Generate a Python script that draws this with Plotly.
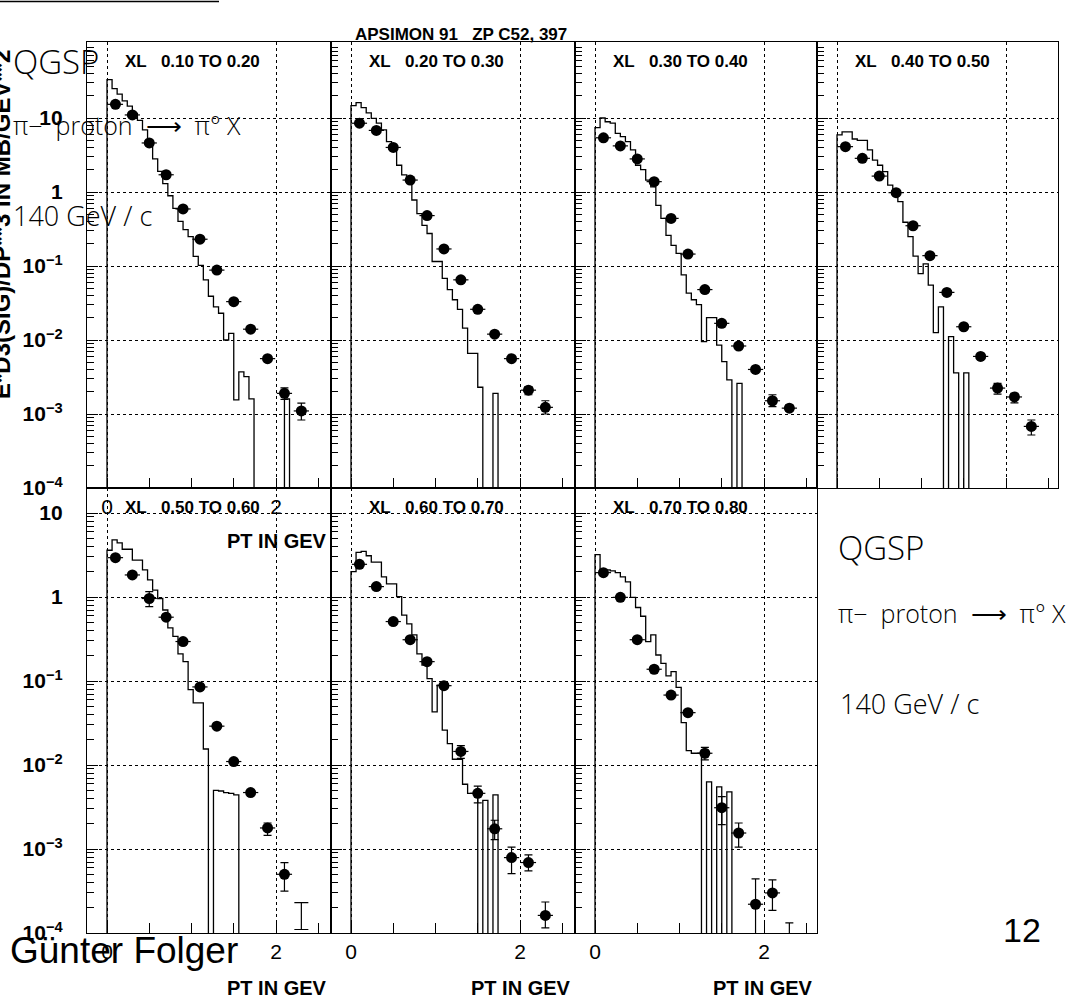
import plotly.graph_objects as go

W, H = 1080, 1002

# ---------------- data ----------------
BIN_WIDTH = 0.06  # GeV, histogram (QGSP) bin width
PT_POINTS = [0.1, 0.3, 0.5, 0.7, 0.9, 1.1, 1.3, 1.5, 1.7, 1.9, 2.1, 2.3]

panel_titles = ["XL   0.10 TO 0.20", "XL   0.20 TO 0.30", "XL   0.30 TO 0.40",
                "XL   0.40 TO 0.50", "XL   0.50 TO 0.60", "XL   0.60 TO 0.70",
                "XL   0.70 TO 0.80"]

# QGSP histograms (E d3sigma/dp3, mb/GeV^2), one value per 0.06 GeV bin starting at pT=0
hist_1 = [33, 25, 21, 17, 14.5, 11.5, 9.3, 6.9, 5.0, 2.8, 1.9, 1.3, 0.89, 0.60, 0.40, 0.31,
          0.25, 0.135, 0.102, 0.065, 0.039, 0.028, 0.023, 0.010, 0.0123, 0.00155, 0.0037,
          0.0032, 0.0016, 0, 0, 0, 0, 0, 0, 0.0016]
hist_2 = [14.7, 16.1, 13.8, 11.7, 9.9, 8.5, 6.9, 4.8, 4.1, 2.3, 1.7, 1.45, 0.78, 0.51, 0.355,
          0.275, 0.115, 0.115, 0.068, 0.048, 0.035, 0.026, 0.0145, 0.0066, 0.0066, 0.0023,
          0, 0, 0.0019]
hist_3 = [7.4, 10, 8.9, 8.5, 6.2, 5.6, 4.8, 3.7, 2.3, 2.0, 1.45, 1.17, 0.66, 0.44, 0.26, 0.19,
          0.148, 0.076, 0.043, 0.035, 0.030, 0.0095, 0.020, 0.020, 0.0085, 0.0051, 0.0029,
          0, 0.0026]
hist_4 = [5.9, 6.5, 6.5, 5.2, 5.0, 5.0, 3.7, 2.7, 2.3, 1.88, 1.24, 0.91, 0.74, 0.39, 0.25,
          0.136, 0.079, 0.107, 0.055, 0.0126, 0.028, 0, 0.0111, 0.0036, 0, 0.0036]
hist_5 = [3.6, 4.8, 4.4, 3.7, 3.7, 2.75, 2.75, 2.1, 1.6, 1.21, 0.96, 0.70, 0.43, 0.34, 0.21,
          0.17, 0.079, 0.055, 0.055, 0.0155, 0, 0.0050, 0.0049, 0.0047, 0.0046, 0.0044]
hist_6 = [2.0, 3.4, 3.5, 3.1, 2.6, 2.6, 1.74, 1.43, 1.43, 1.01, 0.61, 0.48, 0.355, 0.21, 0.155,
          0.107, 0.043, 0.089, 0.026, 0.018, 0.0117, 0.0117, 0.0059, 0.0046, 0.0046, 0,
          0.0038, 0, 0.0044]
hist_7 = [3.2, 2.1, 2.1, 2.05, 1.95, 1.74, 1.51, 0.99, 0.75, 0.59, 0.295, 0.355, 0.204, 0.162,
          0.115, 0.129, 0.084, 0.032, 0.0148, 0.0138, 0.0138, 0, 0.0063, 0, 0.0055, 0, 0.0048]

# APSIMON 91 data points
data_1 = [15.3, 11.0, 4.6, 1.71, 0.59, 0.23, 0.088, 0.033, 0.014, 0.0056, 0.0019, 0.0011]
data_2 = [8.5, 6.8, 4.0, 1.45, 0.48, 0.17, 0.065, 0.026, 0.012, 0.0056, 0.0021, 0.00123]
data_3 = [5.4, 4.2, 2.8, 1.38, 0.44, 0.145, 0.048, 0.0168, 0.0083, 0.0040, 0.00151, 0.0012]
data_4 = [4.1, 2.85, 1.64, 0.98, 0.35, 0.138, 0.044, 0.0151, 0.006, 0.00224, 0.0017, 0.00068]
data_5 = [2.94, 1.83, 0.96, 0.575, 0.295, 0.085, 0.029, 0.011, 0.0047, 0.00178, 0.0005]
data_6 = [2.45, 1.33, 0.51, 0.31, 0.17, 0.088, 0.0145, 0.0046, 0.00174, 0.00079, 0.00069, 0.000162]
data_7 = [1.95, 0.99, 0.31, 0.138, 0.068, 0.042, 0.0138, 0.0031, 0.00155, 0.00022, 0.0003, 0.00005]

# upper / lower ends of the vertical error bars (None = hidden behind the marker)
hi_1 = [None] * 10 + [0.00226, 0.0014]
lo_1 = [None] * 10 + [0.00158, 0.00083]
hi_2 = [None] * 10 + [0.00234, 0.00151]
lo_2 = [None] * 10 + [0.00182, 0.0010]
hi_3 = [None] * 10 + [0.00182, 0.00132]
lo_3 = [None] * 10 + [0.00126, 0.0011]
hi_4 = [None] * 9 + [0.0026, 0.0019, 0.00083]
lo_4 = [None] * 9 + [0.00186, 0.00141, 0.00052]
hi_5 = [None, None, 1.156, None, None, None, None, None, None, 0.00204, 0.00069]
lo_5 = [None, None, 0.767, None, None, None, None, None, None, 0.00145, 0.000316]
hi_6 = [None] * 6 + [0.017, 0.0056, 0.0022, 0.00105, 0.00085, 0.000234]
lo_6 = [None] * 6 + [0.012, 0.00355, 0.00129, 0.00051, 0.00055, 0.000115]
hi_7 = [None] * 6 + [0.0162, 0.0042, 0.00204, 0.00044, 0.00043, 0.000132]
lo_7 = [None] * 6 + [0.0115, 0.00195, 0.00105, 0.0000316, 0.000186, 0.00001]

# panel 5: last point only shows its error bar (x, centre, low, high)
bar_only_5 = dict(x=[2.3], y=[0.00016], lo=[0.00011], hi=[0.00023])

y_decades = [1e-4, 1e-3, 1e-2, 1e-1, 1, 10]
y_decade_text = ["10<sup>−4</sup>", "10<sup>−3</sup>", "10<sup>−2</sup>",
                 "10<sup>−1</sup>", "1", "10"]
x_label_vals = [0, 2]
x_label_text = ["0", "2"]
x_minor_vals = [0.5, 1.0, 1.5, 2.5]

hists = [hist_1, hist_2, hist_3, hist_4, hist_5, hist_6, hist_7]
datas = [data_1, data_2, data_3, data_4, data_5, data_6, data_7]
his = [hi_1, hi_2, hi_3, hi_4, hi_5, hi_6, hi_7]
los = [lo_1, lo_2, lo_3, lo_4, lo_5, lo_6, lo_7]

# ---------------- layout geometry (pixels) ----------------
frames = [(87, 331, 42, 488), (331, 575, 42, 488), (575, 817, 42, 488), (817, 1058, 42, 488),
          (87, 331, 488, 933), (331, 575, 488, 933), (575, 817, 488, 933)]
PX_PER_GEV = 84.5
X0_OFFSET = 20
FLOOR = 1e-7

BOLD = "Liberation Sans"
THIN = "Open Sans"
NB = "\u00a0"
ARROW_TEXT = "π−" + NB * 2 + "proton" + NB * 2 + "⟶" + NB * 2 + "π°" + NB + "X"

def px(xp):
    return xp / W

def py(yp):
    return 1 - yp / H

fig = go.Figure()
layout = dict(width=W, height=H, margin=dict(l=0, r=0, t=0, b=0, autoexpand=False),
              paper_bgcolor="white", plot_bgcolor="white", showlegend=False,
              font=dict(family=BOLD, color="black"))
annotations = []

minor_y = [m * 10.0 ** e for e in range(-4, 2) for m in range(2, 10)]

for i in range(7):
    L, R, T, B = frames[i]
    suf = "" if i == 0 else str(i + 1)
    xa, ya = "x" + suf, "y" + suf
    top_row = i < 4
    decade_px = 74 if top_row else 84
    ytop = -4 + (B - T) / decade_px

    # histogram
    vals = hists[i]
    n = len(vals)
    xs = [0.0] + [k * BIN_WIDTH for k in range(n)] + [n * BIN_WIDTH]
    ys = [FLOOR] + [v if v > 0 else FLOOR for v in vals] + [FLOOR]
    fig.add_trace(go.Scatter(x=xs, y=ys, mode="lines", xaxis=xa, yaxis=ya,
                             line=dict(color="black", width=1.3, shape="hv"),
                             hoverinfo="skip"))

    # data points
    yv = datas[i]
    xv = PT_POINTS[:len(yv)]
    ep = [(h - y) if h is not None else 0 for h, y in zip(his[i], yv)]
    em = [(y - l) if l is not None else 0 for l, y in zip(los[i], yv)]
    fig.add_trace(go.Scatter(
        x=xv, y=yv, mode="markers", xaxis=xa, yaxis=ya,
        marker=dict(size=11, color="black"),
        error_x=dict(type="constant", value=0.09, width=0, thickness=1.2, color="black"),
        error_y=dict(type="data", symmetric=False, array=ep, arrayminus=em,
                     width=4, thickness=1.2, color="black")))

    if i == 4:
        b = bar_only_5
        fig.add_trace(go.Scatter(
            x=b["x"], y=b["y"], mode="markers", xaxis=xa, yaxis=ya,
            marker=dict(size=10, color="rgba(0,0,0,0)"),
            error_y=dict(type="data", symmetric=False,
                         array=[h - y for h, y in zip(b["hi"], b["y"])],
                         arrayminus=[y - l for l, y in zip(b["lo"], b["y"])],
                         width=7, thickness=1.2, color="black")))

    show_x = i in (0, 4, 5, 6)
    show_y = i in (0, 4)
    layout["xaxis" + suf] = dict(
        domain=[px(L), px(R)], anchor=ya,
        range=[-X0_OFFSET / PX_PER_GEV, (R - L - X0_OFFSET) / PX_PER_GEV],
        tickmode="array", tickvals=x_label_vals, ticktext=x_label_text,
        showticklabels=show_x, ticks="inside", ticklen=10, tickwidth=1.3, tickcolor="black",
        tickfont=dict(family=BOLD, size=21, color="black"), ticklabelstandoff=0,
        minor=dict(tickmode="array", tickvals=x_minor_vals, ticks="inside", ticklen=10,
                   tickwidth=1.3, tickcolor="black", showgrid=False),
        showgrid=True, gridcolor="black", griddash="dot", gridwidth=1,
        showline=True, linecolor="black", linewidth=1.3, mirror=True, zeroline=False)
    layout["yaxis" + suf] = dict(
        domain=[py(B), py(T)], anchor=xa, type="log", range=[-4, ytop],
        tickmode="array", tickvals=y_decades, ticktext=y_decade_text,
        showticklabels=show_y, ticks="inside", ticklen=11, tickwidth=1.3, tickcolor="black",
        tickfont=dict(family=BOLD, size=21, color="black", weight="bold"),
        ticklabelstandoff=19,
        minor=dict(tickmode="array", tickvals=minor_y, ticks="inside", ticklen=7,
                   tickwidth=1, tickcolor="black", showgrid=False),
        showgrid=True, gridcolor="black", griddash="dot", gridwidth=1,
        showline=True, linecolor="black", linewidth=1.3, mirror=True, zeroline=False)

    # panel title
    annotations.append(dict(
        text=panel_titles[i].replace(" ", NB), xref=xa, x=0.19, xanchor="left",
        yref="paper", y=py(T + 20), yanchor="middle", showarrow=False,
        font=dict(family=BOLD, size=17, color="black", weight="bold")))

    if show_x:
        ylab = 541 if i == 0 else 988
        annotations.append(dict(
            text="PT IN GEV", xref="paper", x=px(R - 2), xanchor="right",
            yref="paper", y=py(ylab), yanchor="middle", showarrow=False,
            font=dict(family=BOLD, size=20, color="black", weight="bold")))

# global texts
annotations += [
    dict(text="APSIMON 91" + NB * 3 + "ZP C52, 397", xref="paper", x=px(353), xanchor="left",
         yref="paper", y=py(34), yanchor="middle", showarrow=False,
         font=dict(family=BOLD, size=17, weight="bold")),
    dict(text="E*D3(SIG)/DP**3 IN MB/GEV**2", textangle=-90, xref="paper", x=px(1),
         xanchor="center", yref="paper", y=py(225), yanchor="middle", showarrow=False,
         font=dict(family=BOLD, size=24, weight="bold")),
    dict(text="QGSP", xref="paper", x=px(11), xanchor="left", yref="paper", y=py(62),
         yanchor="middle", showarrow=False, font=dict(family=THIN, size=33, weight=300)),
    dict(text=ARROW_TEXT, xref="paper", x=px(11), xanchor="left",
         yref="paper", y=py(125), yanchor="middle", showarrow=False,
         font=dict(family=THIN, size=25, weight=300)),
    dict(text="140 GeV / c", xref="paper", x=px(11), xanchor="left", yref="paper",
         y=py(215), yanchor="middle", showarrow=False,
         font=dict(family=THIN, size=27, weight=300)),
    dict(text="QGSP", xref="paper", x=px(836), xanchor="left", yref="paper", y=py(547),
         yanchor="middle", showarrow=False, font=dict(family=THIN, size=33, weight=300)),
    dict(text=ARROW_TEXT, xref="paper", x=px(836), xanchor="left",
         yref="paper", y=py(613), yanchor="middle", showarrow=False,
         font=dict(family=THIN, size=25, weight=300)),
    dict(text="140 GeV / c", xref="paper", x=px(838), xanchor="left", yref="paper",
         y=py(703), yanchor="middle", showarrow=False,
         font=dict(family=THIN, size=27, weight=300)),
    dict(text="Günter Folger", xref="paper", x=px(8), xanchor="left", yref="paper",
         y=py(950), yanchor="middle", showarrow=False,
         font=dict(family="Liberation Sans", size=37)),
    dict(text="12", xref="paper", x=px(1022), xanchor="center", yref="paper", y=py(930),
         yanchor="middle", showarrow=False, font=dict(family="Liberation Sans", size=34)),
]
layout["annotations"] = annotations

# remnant line at the very top-left
layout["shapes"] = [dict(type="line", xref="paper", yref="paper", x0=0, x1=px(219),
                         y0=py(1.5), y1=py(1.5), line=dict(color="black", width=1.5))]

fig.update_layout(**layout)
fig.write_html("out.html", config={"displayModeBar": False},
               post_script="document.body.style.margin='0';document.body.style.overflow='hidden';")
